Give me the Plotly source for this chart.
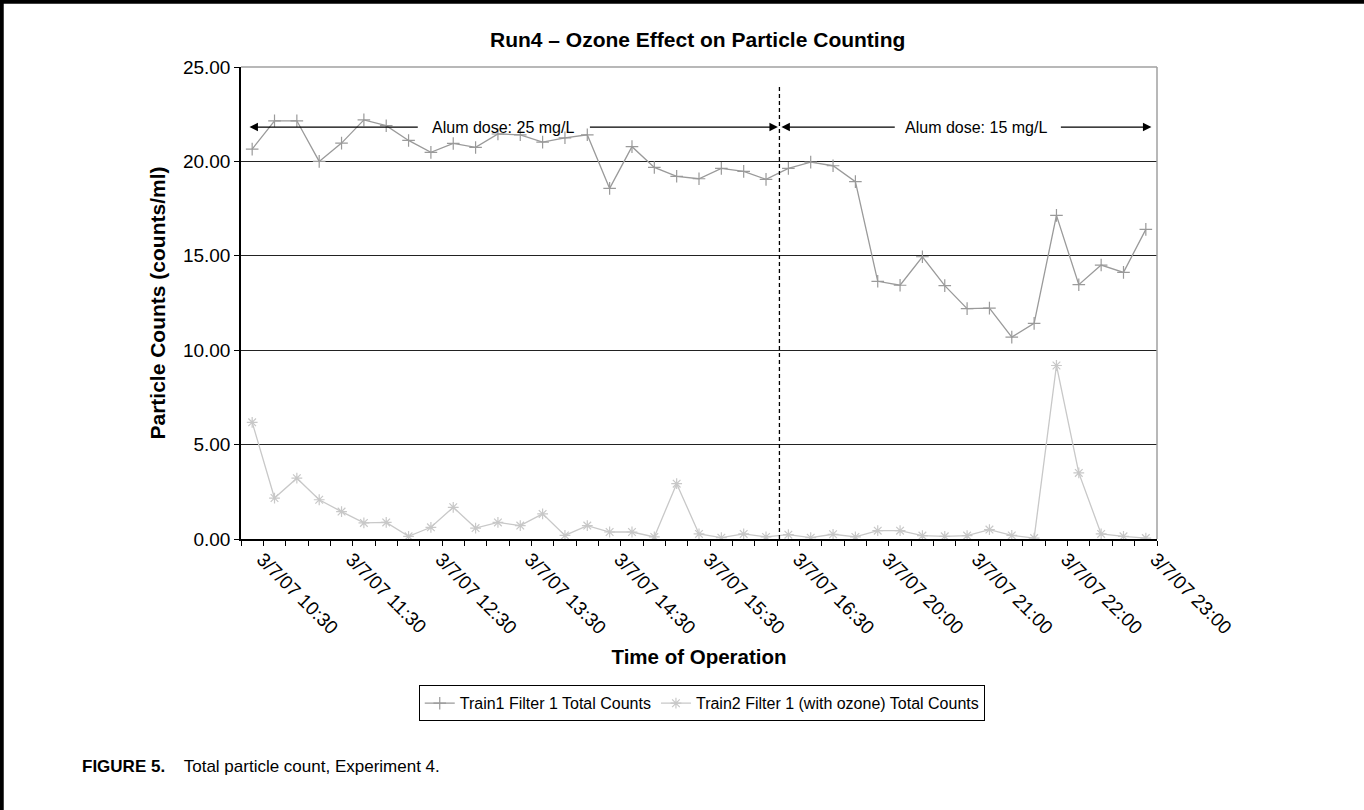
import plotly.graph_objects as go

# ---- data ----
tick_positions = [0, 4, 8, 12, 16, 20, 24, 28, 32, 36, 40]
tick_labels = ["3/7/07 10:30", "3/7/07 11:30", "3/7/07 12:30", "3/7/07 13:30",
               "3/7/07 14:30", "3/7/07 15:30", "3/7/07 16:30", "3/7/07 20:00",
               "3/7/07 21:00", "3/7/07 22:00", "3/7/07 23:00"]

train1 = [20.65, 22.15, 22.15, 20.00, 20.97, 22.20, 21.89, 21.11, 20.48, 20.95,
          20.74, 21.45, 21.41, 21.02, 21.25, 21.41, 18.57, 20.78, 19.68, 19.21,
          19.08, 19.63, 19.47, 19.05, 19.63, 19.96, 19.77, 18.93, 13.65, 13.44,
          14.95, 13.42, 12.20, 12.23, 10.69, 11.42, 17.14, 13.47, 14.51, 14.12, 16.40]
train2 = [6.18, 2.17, 3.22, 2.08, 1.45, 0.85, 0.88, 0.14, 0.62, 1.68,
          0.58, 0.88, 0.71, 1.33, 0.19, 0.71, 0.37, 0.37, 0.11, 2.93,
          0.27, 0.07, 0.27, 0.11, 0.23, 0.07, 0.25, 0.11, 0.44, 0.44,
          0.18, 0.14, 0.18, 0.50, 0.19, 0.05, 9.19, 3.50, 0.27, 0.14, 0.05]
x_idx = list(range(len(train1)))

name1 = "Train1 Filter 1 Total Counts"
name2 = "Train2 Filter 1 (with ozone) Total Counts"

FONT = "Liberation Sans, Arial, sans-serif"

fig = go.Figure()
fig.add_trace(go.Scatter(
    x=x_idx, y=train1, name=name1, mode="lines+markers",
    line=dict(color="#9a9a9a", width=1.3),
    marker=dict(symbol="cross-thin-open", size=9, color="#9a9a9a",
                line=dict(color="#9a9a9a", width=1.2)),
))
fig.add_trace(go.Scatter(
    x=x_idx, y=train2, name=name2, mode="lines+markers",
    line=dict(color="#c8c8c8", width=1.3),
    marker=dict(symbol="asterisk-open", size=9, color="#c8c8c8",
                line=dict(color="#c8c8c8", width=1.2)),
))

# separator line between dose periods
fig.add_shape(type="line", xref="x", yref="y", x0=23.6, x1=23.6, y0=0, y1=24.05,
              line=dict(color="black", width=1.3, dash="4px,3px"))
# plot-area border (top, right)
fig.add_shape(type="line", xref="paper", yref="paper", x0=0, x1=1, y0=1, y1=1,
              line=dict(color="#a0a0a0", width=1.5))
fig.add_shape(type="line", xref="paper", yref="paper", x0=1, x1=1, y0=0, y1=1,
              line=dict(color="#a0a0a0", width=1.5))
# page frame (top and left black rules)
fig.add_shape(type="line", xref="paper", yref="paper", x0=-0.27, x1=1.3, y0=1.138, y1=1.138,
              line=dict(color="black", width=4))
fig.add_shape(type="line", xref="paper", yref="paper", x0=-0.2612, x1=-0.2612, y0=1.15, y1=-0.6,
              line=dict(color="black", width=4))

arrow_y = 21.82
for tip, start in [(-0.12, 7.48), (23.53, 15.05), (23.69, 28.83), (40.25, 36.13)]:
    fig.add_annotation(x=tip, y=arrow_y, ax=start, ay=arrow_y, xref="x", yref="y",
                       axref="x", ayref="y", text="", showarrow=True,
                       arrowhead=2, arrowsize=1.3, arrowwidth=1.3, arrowcolor="black")
fig.add_annotation(x=11.24, y=arrow_y, xref="x", yref="y", text="Alum dose: 25 mg/L",
                   showarrow=False, font=dict(size=16, color="black", family=FONT))
fig.add_annotation(x=32.42, y=arrow_y, xref="x", yref="y", text="Alum dose: 15 mg/L",
                   showarrow=False, font=dict(size=16, color="black", family=FONT))

fig.add_annotation(x=-0.1758, y=-0.482, xref="paper", yref="paper", xanchor="left",
                   yanchor="middle", showarrow=False,
                   text="<b>FIGURE 5.</b>    Total particle count, Experiment 4.",
                   font=dict(size=17, color="black", family=FONT))

fig.update_layout(
    width=1364, height=810,
    margin=dict(l=241, r=207, t=67, b=271),
    paper_bgcolor="white", plot_bgcolor="white",
    font=dict(family=FONT, color="black"),
    title=dict(text="<b>Run4 \u2013 Ozone Effect on Particle Counting</b>",
               x=0.5115, xanchor="center", y=0.951, yanchor="middle",
               font=dict(size=21, color="black", family=FONT)),
    showlegend=True,
    legend=dict(orientation="h", x=0.503, y=-0.31, xanchor="center", yanchor="top",
                bordercolor="black", borderwidth=1, bgcolor="white",
                font=dict(size=16, color="black", family=FONT),
                itemwidth=30, tracegroupgap=0),
)
fig.update_xaxes(
    range=[-0.5, 40.5], tickmode="array", tickvals=tick_positions, ticktext=tick_labels,
    tickangle=45, ticks="", showgrid=False, zeroline=False,
    showline=True, linecolor="black", linewidth=1.5,
    tickfont=dict(size=19, color="black", family=FONT),
    ticklabelshift=10,
    minor=dict(tick0=-0.5, dtick=1, ticks="outside", ticklen=5, tickcolor="black",
               tickwidth=1, showgrid=False),
    title=dict(text="<b>Time of Operation</b>", font=dict(size=20.5, color="black", family=FONT),
               standoff=12),
)
fig.update_yaxes(
    range=[0, 25], tickmode="array", tickvals=[0, 5, 10, 15, 20, 25], tickformat=".2f",
    ticks="outside", ticklen=5, tickcolor="black", showgrid=True, gridcolor="#222222",
    gridwidth=1.2, zeroline=False, showline=True, linecolor="black", linewidth=1.5,
    tickfont=dict(size=19, color="black", family=FONT),
    title=dict(text="<b>Particle Counts (counts/ml)</b>",
               font=dict(size=21, color="black", family=FONT), standoff=12),
)

fig.write_html("out.html", config={"displayModeBar": False},
               post_script="document.body.style.margin='0';")
